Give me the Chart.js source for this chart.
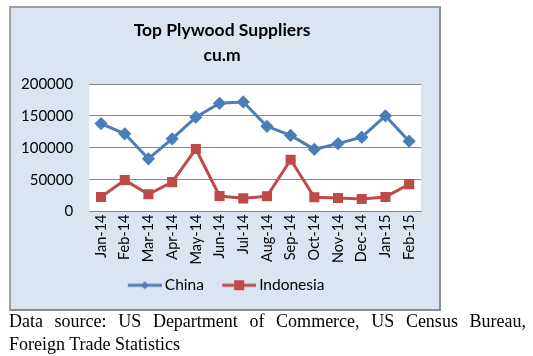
<!DOCTYPE html>
<html><head><meta charset="utf-8">
<script src="https://cdn.jsdelivr.net/npm/chart.js@4/dist/chart.umd.min.js"></script>
<style>
html,body{margin:0;padding:0;background:#fff;width:533px;height:356px;overflow:hidden}
#box{position:absolute;left:9px;top:6px;width:428px;height:301px;background:#dbe5f1;border:2px solid #8c8c8c;border-top-color:#a0a0a0;border-left-color:#a0a0a0}
#wrap{position:absolute;left:9px;top:6px;width:432px;height:305px}
#cap{position:absolute;left:9px;top:310px;width:517px;font-family:"Liberation Serif","Times New Roman",serif;font-size:18px;line-height:23px;color:#000;text-align:justify;text-align-last:left}
</style></head><body>
<div id="box"></div>
<div id="wrap"><canvas id="c" width="432" height="305"></canvas></div>
<div id="cap">Data source: US Department of Commerce, US Census Bureau, Foreign Trade Statistics</div>
<script>
const categories=["Jan-14","Feb-14","Mar-14","Apr-14","May-14","Jun-14","Jul-14","Aug-14","Sep-14","Oct-14","Nov-14","Dec-14","Jan-15","Feb-15"];
const china=[138000,122000,82800,114000,148000,169800,171900,133700,119400,97600,106600,116700,150100,110300];
const indonesia=[22800,49300,27000,46200,98100,24400,20700,23900,81200,22300,21200,19600,22800,43000];
const yTicks=[0,50000,100000,150000,200000];
const chartTitle=["Top Plywood Suppliers","cu.m"];

const FONT='Lato, "Open Sans", sans-serif';
function legendIcon(color,style){
  const c=document.createElement('canvas');c.width=47;c.height=12;
  const x=c.getContext('2d');
  const o=13;
  x.strokeStyle=color;x.lineWidth=3;x.beginPath();x.moveTo(o,6);x.lineTo(o+34,6);x.stroke();
  x.fillStyle=color;
  if(style==='rect'){x.fillRect(o+12,1,10,10);}
  else{x.beginPath();x.moveTo(o+17,2);x.lineTo(o+21,6);x.lineTo(o+17,10);x.lineTo(o+13,6);x.closePath();x.fill();}
  return c;
}
const icons=[legendIcon('#4a7ebb','rectRot'),legendIcon('#be4b48','rect')];
const plotBg={id:'plotBg',beforeDraw(ch){const a=ch.chartArea,ctx=ch.ctx;ctx.save();ctx.fillStyle='#ffffff';ctx.fillRect(a.left,a.top,a.right-a.left,a.bottom-a.top);ctx.restore();}};
const shiftBoxes={id:'shiftBoxes',afterLayout(ch){
  if(ch.titleBlock){ch.titleBlock.left+=9;ch.titleBlock.right+=9;}
  if(ch.legend){ch.legend.left+=9;ch.legend.right+=9;}
}};

new Chart(document.getElementById('c'),{
  type:'line',
  data:{labels:categories,datasets:[
    {label:'China',data:china,borderColor:'#4a7ebb',backgroundColor:'#4a7ebb',borderWidth:3,pointStyle:'rectRot',pointRadius:4.5,pointHoverRadius:4.5,tension:0},
    {label:'Indonesia',data:indonesia,borderColor:'#be4b48',backgroundColor:'#be4b48',borderWidth:3,pointStyle:'rect',pointRadius:5,pointHoverRadius:5,tension:0}
  ]},
  options:{
    responsive:false,animation:false,devicePixelRatio:1,
    layout:{padding:{left:-4,right:20,top:6,bottom:8}},
    plugins:{
      title:{display:true,text:chartTitle,color:'#000',font:{family:FONT,size:17.5,weight:'bold',lineHeight:1.43},padding:{top:6,bottom:16}},
      legend:{position:'bottom',labels:{color:'#000',font:{family:FONT,size:15.5},usePointStyle:true,pointStyleWidth:37.5,boxHeight:12,padding:10,
        generateLabels(ch){const l=Chart.defaults.plugins.legend.labels.generateLabels(ch);l.forEach((it,i)=>{it.pointStyle=icons[i];});return l;}}},
      tooltip:{enabled:false}
    },
    scales:{
      x:{offset:true,grid:{display:false,drawTicks:false},border:{color:'#868686'},
        ticks:{color:'#000',font:{family:FONT,size:14.5},minRotation:90,maxRotation:90,autoSkip:false,padding:3}},
      y:{min:0,max:200000,afterBuildTicks(ax){ax.ticks=yTicks.map(v=>({value:v}));},
        grid:{color:'#868686',drawTicks:false},border:{display:false},
        ticks:{color:'#000',font:{family:FONT,size:15},padding:16,callback:v=>String(v)}}
    }
  },
  plugins:[plotBg,shiftBoxes]
});
</script>
</body></html>
